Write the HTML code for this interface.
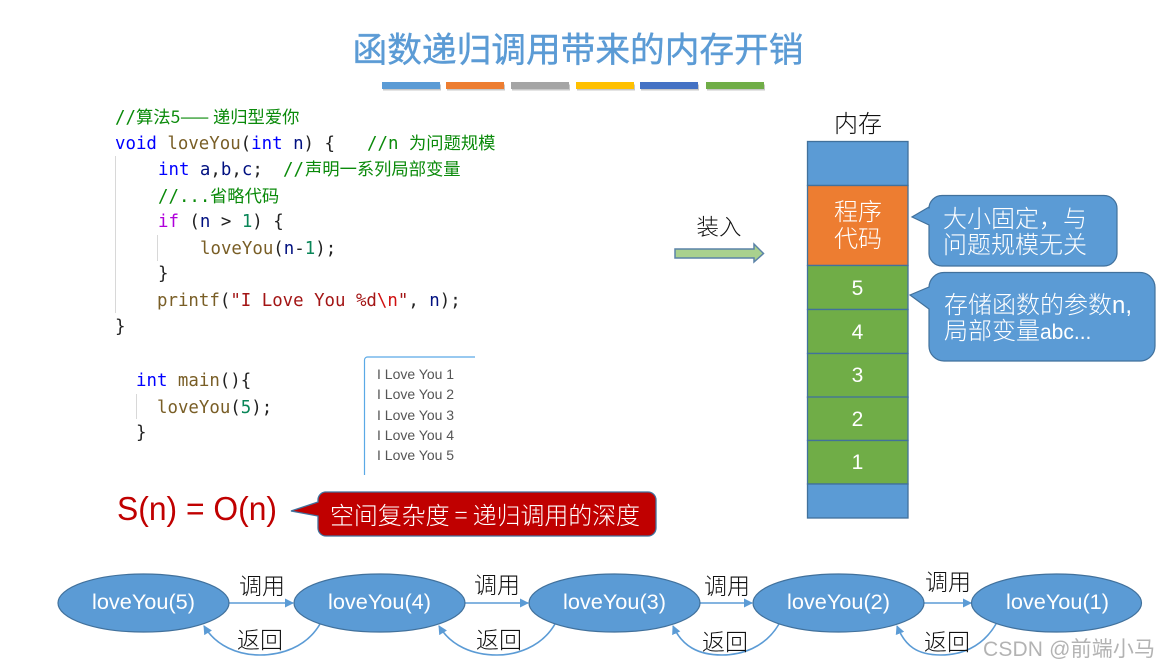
<!DOCTYPE html>
<html><head><meta charset="utf-8"><style>
html,body{margin:0;padding:0;background:#fff}
svg{display:block}
.c{font-family:"DejaVu Sans Mono","Noto Sans CJK SC",monospace;font-size:17.4px;fill:#222}
.cj{font-family:"Noto Sans CJK SC",sans-serif;font-size:17.3px;fill:#0a8a0a}
.k{fill:#0000ff}.f{fill:#795e26}.v{fill:#001080}.g{fill:#0a8a0a}.n{fill:#098658}.s{fill:#a31515}.p{fill:#af00db}.e{fill:#d01010}
.z{font-family:"Noto Sans CJK SC",sans-serif;font-weight:300}
.l{font-family:"Liberation Sans",sans-serif}
.o{font-family:"Liberation Sans",sans-serif;font-size:14px;fill:#555}
</style></head><body>
<svg width="1161" height="669" viewBox="0 0 1161 669" xmlns="http://www.w3.org/2000/svg">
<defs>
<marker id="a" markerWidth="9" markerHeight="9" refX="8" refY="4.5" orient="auto" markerUnits="userSpaceOnUse"><path d="M0 0L9 4.500L0 9Z" fill="#5b9bd5"/></marker>
</defs>
<rect width="1161" height="669" fill="#fff"/>
<text x="578" y="62" text-anchor="middle" class="z" font-size="34.700" fill="#5b9bd5" stroke="#5b9bd5" stroke-width=".4" style="font-weight:400">函数递归调用带来的内存开销</text>
<g fill="#c8c8c8">
<rect x="383" y="84.500" width="58" height="6"/><rect x="447" y="84.500" width="58" height="6"/><rect x="512" y="84.500" width="58" height="6"/><rect x="577" y="84.500" width="58" height="6"/><rect x="641" y="84.500" width="58" height="6"/><rect x="707" y="84.500" width="58" height="6"/>
</g>
<rect x="382" y="82" width="58" height="7" fill="#5b9bd5"/><rect x="446" y="82" width="58" height="7" fill="#ed7d31"/><rect x="511" y="82" width="58" height="7" fill="#a5a5a5"/><rect x="576" y="82" width="58" height="7" fill="#ffc000"/><rect x="640" y="82" width="58" height="7" fill="#4472c4"/><rect x="706" y="82" width="58" height="7" fill="#70ad47"/>

<!-- code -->
<g stroke="#d8d8d8" stroke-width="1"><line x1="115.500" y1="156" x2="115.500" y2="313"/><line x1="157.500" y1="235" x2="157.500" y2="261"/><line x1="136.500" y1="394" x2="136.500" y2="419"/></g>
<text class="c g" x="115" y="123">//</text><text class="cj" x="136" y="123">算法5—— 递归型爱你</text>
<text class="c" x="115" y="149"><tspan class="k">void</tspan> <tspan class="f">loveYou</tspan>(<tspan class="k">int</tspan> <tspan class="v">n</tspan>) {</text><text class="c g" x="367" y="149">//n</text><text class="cj" x="409" y="149">为问题规模</text>
<text class="c" x="158" y="175"><tspan class="k">int</tspan> <tspan class="v">a</tspan>,<tspan class="v">b</tspan>,<tspan class="v">c</tspan>;</text><text class="c g" x="283" y="175">//</text><text class="cj" x="305" y="175">声明一系列局部变量</text>
<text class="c g" x="158" y="202">//...</text><text class="cj" x="210" y="202">省略代码</text>
<text class="c" x="158" y="227"><tspan class="p">if</tspan> (<tspan class="v">n</tspan> &gt; <tspan class="n">1</tspan>) {</text>
<text class="c" x="200" y="254"><tspan class="f">loveYou</tspan>(<tspan class="v">n</tspan>-<tspan class="n">1</tspan>);</text>
<text class="c" x="158" y="279">}</text>
<text class="c" x="157" y="306"><tspan class="f">printf</tspan>(<tspan class="s">"I Love You %d</tspan><tspan class="e">\n</tspan><tspan class="s">"</tspan>, <tspan class="v">n</tspan>);</text>
<text class="c" x="115" y="332">}</text>
<text class="c" x="136" y="386"><tspan class="k">int</tspan> <tspan class="f">main</tspan>(){</text>
<text class="c" x="157" y="413"><tspan class="f">loveYou</tspan>(<tspan class="n">5</tspan>);</text>
<text class="c" x="136" y="438">}</text>

<!-- output box -->
<path d="M364.500 475V360a3 3 0 0 1 3-3H475" fill="none" stroke="#5aa9e6" stroke-width="1.200"/>
<text class="o" x="377" y="379">I Love You 1</text>
<text class="o" x="377" y="399">I Love You 2</text>
<text class="o" x="377" y="420">I Love You 3</text>
<text class="o" x="377" y="440">I Love You 4</text>
<text class="o" x="377" y="460">I Love You 5</text>

<!-- S(n) -->
<text class="l" x="117" y="520" font-size="33" fill="#c00000" textLength="160" lengthAdjust="spacingAndGlyphs">S(n) = O(n)</text>
<path d="M325 492H648a8 8 0 0 1 8 8V528a8 8 0 0 1-8 8H326a8 8 0 0 1-8-8V516L291 511L318 502V500a8 8 0 0 1 7-8Z" fill="#c00000" stroke="#41719c" stroke-width="1.300"/>
<text class="z" x="330" y="524" font-size="24" fill="#fff" textLength="310">空间复杂度 = 递归调用的深度</text>

<!-- load arrow -->
<text class="z" x="719" y="235" text-anchor="middle" font-size="22.500" fill="#111">装入</text>
<path d="M675 249H754V244L763.500 253.500L754 262V258H675Z" fill="#a9d18e" stroke="#5b83a8" stroke-width="1.500"/>

<!-- memory -->
<text class="z" x="858" y="132" text-anchor="middle" font-size="24" fill="#111">内存</text>
<g stroke="#41719c" stroke-width="1.300">
<rect x="807.500" y="141.500" width="100.500" height="44" fill="#5b9bd5"/>
<rect x="807.500" y="185.500" width="100.500" height="80" fill="#ed7d31"/>
<rect x="807.500" y="265.500" width="100.500" height="44" fill="#70ad47"/>
<rect x="807.500" y="309.500" width="100.500" height="44" fill="#70ad47"/>
<rect x="807.500" y="353.500" width="100.500" height="44" fill="#70ad47"/>
<rect x="807.500" y="397" width="100.500" height="43.500" fill="#70ad47"/>
<rect x="807.500" y="440.500" width="100.500" height="43.500" fill="#70ad47"/>
<rect x="807.500" y="484" width="100.500" height="34" fill="#5b9bd5"/>
</g>
<g fill="#fff" text-anchor="middle">
<text class="z" x="858" y="220" font-size="24">程序</text>
<text class="z" x="858" y="247" font-size="24">代码</text>
<g class="l" font-size="21"><text x="857.500" y="295">5</text><text x="857.500" y="339">4</text><text x="857.500" y="382">3</text><text x="857.500" y="426">2</text><text x="857.500" y="469">1</text></g>
</g>

<!-- callouts -->
<path d="M942 195.500H1104a13 13 0 0 1 13 13V253a13 13 0 0 1-13 13H942a13 13 0 0 1-13-13V225L912 217L929 207V208.500a13 13 0 0 1 13-13Z" fill="#5b9bd5" stroke="#41719c" stroke-width="1.200"/>
<g fill="#fff" class="z" font-size="24"><text x="943" y="227">大小固定，与</text><text x="943" y="253">问题规模无关</text></g>
<path d="M944 272.500H1140a15 15 0 0 1 15 15V346a15 15 0 0 1-15 15H944a15 15 0 0 1-15-15V309L910 295L929 287V287.500a15 15 0 0 1 15-15Z" fill="#5b9bd5" stroke="#41719c" stroke-width="1.200"/>
<g fill="#fff" class="z" font-size="24"><text x="944" y="313">存储函数的参数<tspan class="l">n,</tspan></text><text x="944" y="339">局部变量<tspan class="l" font-size="21">abc...</tspan></text></g>

<!-- chain -->
<g fill="none" stroke="#5b9bd5" stroke-width="1.600">
<path d="M229 603H293" marker-end="url(#a)"/><path d="M465 603H528" marker-end="url(#a)"/><path d="M700 603H752" marker-end="url(#a)"/><path d="M924 603H971" marker-end="url(#a)"/>
<path d="M320 624C306 648 280 655 260 655C238 655 216 646 204 626" marker-end="url(#a)"/>
<path d="M555 624C541 648 515 655 497 655C473 655 451 646 439 626" marker-end="url(#a)"/>
<path d="M779 624C765 648 741 655 722 655C698 655 682 646 673 626" marker-end="url(#a)"/>
<path d="M996 624C982 648 960 655 941 655C917 655 905 646 897 626" marker-end="url(#a)"/>
</g>
<g fill="#5b9bd5" stroke="#41719c" stroke-width="1.200">
<ellipse cx="143.500" cy="603" rx="85.500" ry="29"/><ellipse cx="379.500" cy="603" rx="85.500" ry="29"/><ellipse cx="614.500" cy="603" rx="85.500" ry="29"/><ellipse cx="838.500" cy="603" rx="85.500" ry="29"/><ellipse cx="1056.500" cy="603" rx="85" ry="29"/>
</g>
<g class="l" font-size="21" fill="#fff">
<text x="92" y="609" textLength="103" lengthAdjust="spacingAndGlyphs">loveYou(5)</text><text x="328" y="609" textLength="103" lengthAdjust="spacingAndGlyphs">loveYou(4)</text><text x="563" y="609" textLength="103" lengthAdjust="spacingAndGlyphs">loveYou(3)</text><text x="787" y="609" textLength="103" lengthAdjust="spacingAndGlyphs">loveYou(2)</text><text x="1006" y="609" textLength="103" lengthAdjust="spacingAndGlyphs">loveYou(1)</text>
</g>
<g class="z" font-size="23" fill="#111" text-anchor="middle">
<text x="262" y="594">调用</text><text x="497" y="593">调用</text><text x="727" y="594">调用</text><text x="948" y="590">调用</text>
<text x="260" y="648">返回</text><text x="499" y="648">返回</text><text x="725" y="650">返回</text><text x="947" y="650">返回</text>
</g>
<text x="983" y="656" font-size="21" fill="#9a9a9a" fill-opacity=".75" textLength="172" font-family="'Liberation Sans','Noto Sans CJK SC',sans-serif">CSDN @前端小马</text>
</svg>
</body></html>
